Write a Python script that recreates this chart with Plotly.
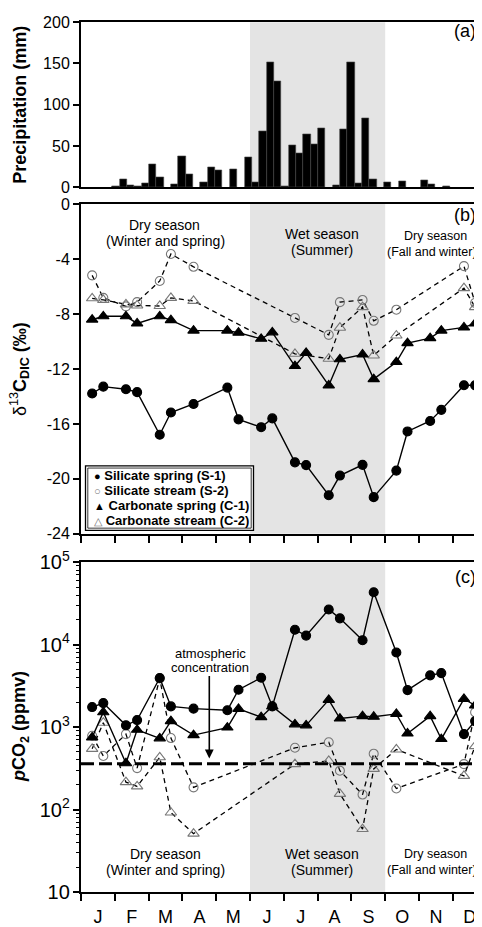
import plotly.graph_objects as go

# ---------------- data ----------------
MONTH_LABELS = ["J", "F", "M", "A", "M", "J", "J", "A", "S", "O", "N", "D"]
MONTH_STARTS = list(range(12))

# weekly precipitation (bar centre in month units, mm)
PRECIP_X = [1.036, 1.253, 1.470, 1.688, 1.905, 2.122, 2.339, 2.774, 2.991, 3.208,
            3.643, 3.860, 4.077, 4.512, 4.946, 5.163, 5.381, 5.598, 5.815, 6.032,
            6.250, 6.467, 6.684, 6.901, 7.118, 7.553, 7.770, 7.987, 8.205, 8.422,
            8.639, 9.074, 9.508, 10.160, 10.377, 10.811]
PRECIP_MM = [1, 9, 2, 1, 5, 28, 12, 3, 37, 16,
             6, 24, 20, 22, 36, 6, 68, 151, 128, 1,
             51, 41, 64, 52, 71, 2, 70, 152, 5, 84,
             9, 6, 7, 8, 4, 1]

# sampling dates (month units)
X_SPRING = [0.33, 0.66, 1.33, 1.66, 2.33, 2.66, 3.33, 4.33, 4.66, 5.33, 5.66, 6.33,
            6.66, 7.33, 7.66, 8.33, 8.66, 9.33, 9.66, 10.33, 10.66, 11.33, 11.66]
X_STREAM = [0.33, 0.66, 1.33, 1.66, 2.33, 2.66, 3.33, 6.33, 7.33, 7.66, 8.33, 8.66,
            9.33, 11.33, 11.66]

D13C_S1 = [-13.79, -13.29, -13.48, -13.69, -16.79, -15.17, -14.55, -13.36, -15.67,
           -16.24, -15.60, -18.80, -19.00, -21.19, -19.76, -18.98, -21.33, -19.40,
           -16.55, -15.79, -14.98, -13.19, -13.19]
D13C_C1 = [-8.41, -8.17, -8.17, -8.69, -8.17, -8.45, -9.21, -9.21, -9.36, -9.81,
           -9.34, -11.79, -10.83, -13.20, -11.30, -10.95, -12.74, -11.50, -10.12,
           -9.76, -9.21, -8.98, -8.69]
D13C_S2 = [-5.19, -6.83, -7.45, -7.14, -5.60, -3.64, -4.57, -8.29, -9.52, -7.14,
           -6.98, -8.50, -7.69, -4.52, -7.19]
D13C_C2 = [-6.86, -6.98, -7.30, -7.38, -7.42, -6.83, -7.05, -10.90, -11.26, -9.00,
           -7.50, -11.02, -9.57, -6.12, -7.50]

PCO2_S1 = [1750, 1954, 1051, 1217, 3944, 1783, 1675, 1601, 2840, 3970, 1783, 15170,
           12880, 26690, 20850, 11310, 43250, 8020, 2810, 4240, 4520, 822, 1183]
PCO2_C1 = [750, 1515, 365, 927, 730, 1183, 800, 987, 1660, 1320, 1780, 1080,
           1050, 2140, 1270, 1357, 1335, 1445, 837, 1357, 716, 2198, 1832]
PCO2_S2 = [786, 446, 822, 318, 3900, 736, 186, 561, 655, 296, 152, 476, 180, 356, 1515]
PCO2_C2 = [545, 1130, 215, 191, 430, 92, 51, 356, 389, 155, 58, 311, 536, 256, 587]

ATM_PCO2 = 360
WET_SEASON = (5, 9)

B_TICKS = [-24, -20, -16, -12, -8, -4, 0]
B_TICKTEXT = ["-24", "-20", "-16", "-12", "-8", "-4", "0"]

SERIES_NAMES = ["Silicate spring (S-1)", "Silicate stream (S-2)",
                "Carbonate spring (C-1)", "Carbonate stream (C-2)"]
SEASON_TEXT = [("Dry season", "(Winter and spring)"),
               ("Wet season", "(Summer)"),
               ("Dry season", "(Fall and winter)")]

# ---------------- layout geometry ----------------
# the page body has an 8px margin, so the figure is drawn 8px in from the corner
BODY = 8
W, H = 482 - BODY, 927 - BODY
ML, MR, MT, MB = 81 - BODY, 0, 14 - BODY, 24
PW, PH = W - ML - MR, H - MT - MB
MONTH_PX = 33.8
XMAX = PW / MONTH_PX
FONT = "Liberation Sans, Arial, sans-serif"
GRAY = "#777777"


def py2p(py):
    """page pixel row -> paper fraction"""
    return (H - MB - (py - BODY)) / PH


def px2p(px):
    """page pixel column -> paper fraction"""
    return (px - BODY - ML) / PW


fig = go.Figure()

# panel (a)
fig.add_trace(go.Bar(x=PRECIP_X, y=PRECIP_MM, width=0.2172, xaxis="x", yaxis="y",
                     marker=dict(color="black", line=dict(color="#444", width=0.6)),
                     showlegend=False, name="Precipitation"))


def add_series(x, y, xa, ya, name, symbol, filled, dashed):
    fig.add_trace(go.Scatter(
        x=x, y=y, xaxis=xa, yaxis=ya, mode="lines+markers", name=name,
        showlegend=False,
        line=dict(color="black", width=1.4 if not dashed else 1.3,
                  dash="5px,4px" if dashed else "solid"),
        marker=dict(symbol=symbol, size=9 if "circle" in symbol else 10,
                    color="black" if filled else GRAY,
                    line=dict(width=1.1, color="black" if filled else GRAY)),
    ))


for xa, ya, s1, s2, c1, c2 in [("x2", "y2", D13C_S1, D13C_S2, D13C_C1, D13C_C2),
                               ("x3", "y3", PCO2_S1, PCO2_S2, PCO2_C1, PCO2_C2)]:
    add_series(X_STREAM, s2, xa, ya, SERIES_NAMES[1], "circle-open", False, True)
    add_series(X_STREAM, c2, xa, ya, SERIES_NAMES[3], "triangle-up-open", False, True)
    add_series(X_SPRING, c1, xa, ya, SERIES_NAMES[2], "triangle-up", True, False)
    add_series(X_SPRING, s1, xa, ya, SERIES_NAMES[0], "circle", True, False)

axis_common = dict(showline=True, linewidth=2, linecolor="black", showgrid=False,
                   zeroline=False, ticks="outside", tickwidth=1.5, tickcolor="black",
                   ticklen=6, tickfont=dict(size=16, color="black", family=FONT))

fig.update_layout(
    width=W, height=H, margin=dict(l=ML, r=MR, t=MT, b=MB, pad=0),
    paper_bgcolor="white", plot_bgcolor="white",
    font=dict(family=FONT, color="black"),
    bargap=0,
    xaxis=dict(axis_common, domain=[0, 1], range=[0, XMAX], anchor="y",
               showticklabels=False, ticks="", mirror=True),
    yaxis=dict(axis_common, domain=[py2p(182.7), py2p(14.3)], range=[0, 200],
               tickvals=[0, 50, 100, 150, 200], anchor="x"),
    xaxis2=dict(axis_common, domain=[0, 1], range=[0, XMAX], anchor="y2",
                tickvals=MONTH_STARTS, showticklabels=False, ticklen=7,
                mirror=True),
    yaxis2=dict(axis_common, domain=[py2p(537), py2p(200)], range=[-24, 0],
                tickvals=B_TICKS, ticktext=B_TICKTEXT, anchor="x2"),
    xaxis3=dict(axis_common, domain=[0, 1], range=[0, XMAX], anchor="y3",
                tickvals=MONTH_STARTS, ticktext=MONTH_LABELS, ticklen=7,
                ticklabelshift=int(round(MONTH_PX / 2)), mirror=True,
                tickfont=dict(size=18, color="black", family=FONT)),
    yaxis3=dict(axis_common, domain=[0, py2p(566)], type="log", range=[1, 5],
                dtick=1, exponentformat="power", anchor="x3",
                minor=dict(ticks="outside", ticklen=3, tickwidth=1, tickcolor="black",
                           showgrid=False)),
)

shapes = []
for xr, yr in [("x", "y domain"), ("x2", "y2 domain"), ("x3", "y3 domain")]:
    shapes.append(dict(type="rect", xref=xr, yref=yr, x0=WET_SEASON[0], x1=WET_SEASON[1],
                       y0=0, y1=1, fillcolor="#e4e4e4", line=dict(width=0), layer="below"))
shapes.append(dict(type="line", xref="x3 domain", yref="y3", x0=0, x1=1,
                   y0=ATM_PCO2, y1=ATM_PCO2, line=dict(color="black", width=3,
                                                     dash="13px,5px"), layer="above"))
# legend frame (double line)
shapes.append(dict(type="rect", xref="paper", yref="paper", x0=px2p(85.5), x1=px2p(253.5),
                   y0=py2p(533.5), y1=py2p(467.5), fillcolor="white",
                   line=dict(color="black", width=1.3), layer="above"))
shapes.append(dict(type="rect", xref="paper", yref="paper", x0=px2p(87.8), x1=px2p(251.2),
                   y0=py2p(531.2), y1=py2p(469.8), line=dict(color="black", width=0.8),
                   layer="above"))
fig.update_layout(shapes=shapes)

ann = []


def text(t, px, py, size, xanchor="center", **kw):
    ann.append(dict(text=t, x=px2p(px), y=py2p(py),
                    xref="paper", yref="paper", showarrow=False, xanchor=xanchor,
                    yanchor="middle", font=dict(size=size, family=FONT, color="black"),
                    **kw))


# panel labels
text("(a)", 478, 23.3, 18, xanchor="right")
text("(b)", 478, 211.7, 18, xanchor="right")
text("(c)", 478, 580.7, 18, xanchor="right")

# season labels (two lines each)
season_pos_b = [((164.5, 221.5), (165, 237.5), 14), ((321.7, 231), (321.7, 247), 14),
                ((435, 233), (431.5, 249), 12.5)]
season_pos_c = [((165.7, 864.5), (165.7, 880.5), 14), ((321.7, 864.5), (321.7, 880.5), 14),
                ((435, 864.5), (432, 880.5), 12.5)]
for pos in (season_pos_b, season_pos_c):
    for (l1, l2), (p1, p2, sz) in zip(SEASON_TEXT, pos):
        text(l1, p1[0], p1[1], sz)
        text(l2, p2[0], p2[1], sz)

# atmospheric concentration note + arrow
text("atmospheric", 210, 659, 13)
text("concentration", 210, 673.5, 13)
ann.append(dict(text="", x=px2p(209.3), y=py2p(766.5), xref="paper", yref="paper",
                ax=0, ay=-84, axref="pixel", ayref="pixel", showarrow=True,
                arrowhead=2, arrowsize=1.1, arrowwidth=1.6, arrowcolor="black",
                standoff=0))

# axis titles
text("<b>Precipitation (mm)</b>", 20, 98.5, 18, textangle=-90)
text("δ<sup>13</sup><b>C</b><sub><b>DIC</b></sub><b> (‰)</b>", 20, 368.5, 18,
     textangle=-90)
text("<b><i>p</i>CO<sub>2</sub> (ppmv)</b>", 20, 734.5, 18, textangle=-90)

# legend rows
LEG_SYMBOLS = [("●", "black"), ("○", GRAY), ("▲", "black"), ("△", GRAY)]
for i, (name, (sym, col)) in enumerate(zip(SERIES_NAMES, LEG_SYMBOLS)):
    py = 477 + i * 15.5
    ann.append(dict(text='<span style="color:%s;font-size:11px">%s</span> <b>%s</b>'
                         % (col, sym, name),
                    x=px2p(91.5), y=py2p(py), xref="paper", yref="paper",
                    showarrow=False, xanchor="left", yanchor="middle",
                    font=dict(size=13, family=FONT, color="black")))

fig.update_layout(annotations=ann)
fig.write_html("out.html")
